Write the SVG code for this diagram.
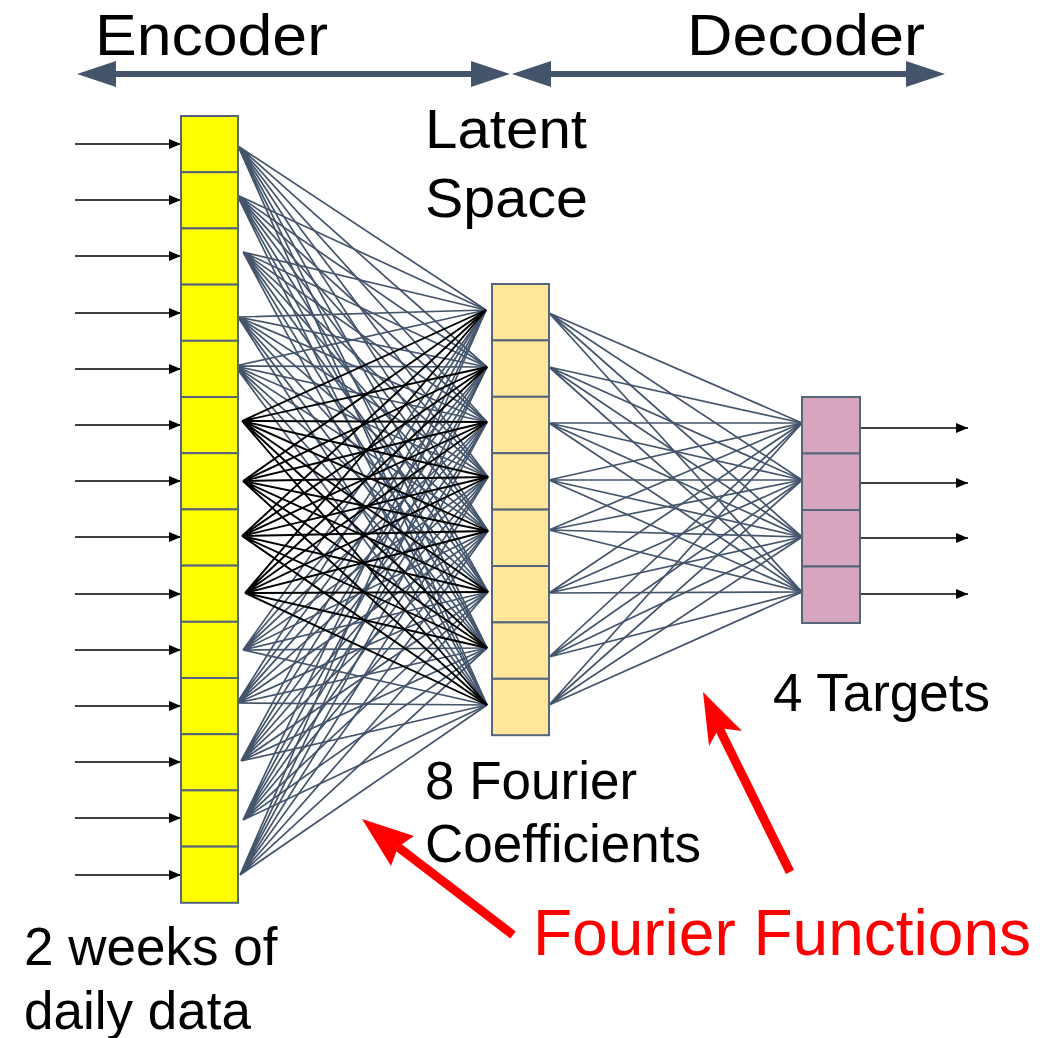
<svg xmlns="http://www.w3.org/2000/svg" width="1048" height="1038" viewBox="0 0 1048 1038">
<style>
text{font-family:"Liberation Sans",Arial,sans-serif;fill:#000}
.cell{stroke:#56657E;stroke-width:2}
.y{fill:#FFFF00}
.l{fill:#FFE699}
.t{fill:#D5A6BD}
.g{fill:none;stroke:#44546A;stroke-width:1.7}
.k{fill:none;stroke:#000;stroke-width:1.9}
.io{stroke:#000;stroke-width:1.5}
.big{stroke:#44546A;stroke-width:6}
.bigh{fill:#44546A}
.red{stroke:#FF0000;stroke-width:9}
.redh{fill:#FF0000}
</style>
<defs>
<marker id="ah" markerUnits="userSpaceOnUse" markerWidth="12" markerHeight="10" refX="12" refY="5" orient="auto">
<path d="M0,0 L12,5 L0,10 z" fill="#000"/>
</marker>
</defs>
<rect width="1048" height="1038" fill="#fff"/>

<g id="connectors">
<g id="encoder-gray">
<path class="g" d="M238 146L486 310M238 146L487 367M238 146L487 422M238 146L488 477M238 146L488 531M238 146L488 592M238 146L487 648M238 146L487 705"/>
<path class="g" d="M237 195L486 310M237 195L487 367M237 195L487 422M237 195L488 477M237 195L488 531M237 195L488 592M237 195L487 648M237 195L487 705"/>
<path class="g" d="M243 252L486 310M243 252L487 367M243 252L487 422M243 252L488 477M243 252L488 531M243 252L488 592M243 252L487 648M243 252L487 705"/>
<path class="g" d="M238 317L486 310M238 317L487 367M238 317L487 422M238 317L488 477M238 317L488 531M238 317L488 592M238 317L487 648M238 317L487 705"/>
<path class="g" d="M235 366L486 310M235 366L487 367M235 366L487 422M235 366L488 477M235 366L488 531M235 366L488 592M235 366L487 648M235 366L487 705"/>
<path class="g" d="M243 650L486 310M243 650L487 367M243 650L487 422M243 650L488 477M243 650L488 531M243 650L488 592M243 650L487 648M243 650L487 705"/>
<path class="g" d="M237 703L486 310M237 703L487 367M237 703L487 422M237 703L488 477M237 703L488 531M237 703L488 592M237 703L487 648M237 703L487 705"/>
<path class="g" d="M241 761L486 310M241 761L487 367M241 761L487 422M241 761L488 477M241 761L488 531M241 761L488 592M241 761L487 648M241 761L487 705"/>
<path class="g" d="M243 820L486 310M243 820L487 367M243 820L487 422M243 820L488 477M243 820L488 531M243 820L488 592M243 820L487 648M243 820L487 705"/>
<path class="g" d="M240 875L486 310M240 875L487 367M240 875L487 422M240 875L488 477M240 875L488 531M240 875L488 592M240 875L487 648M240 875L487 705"/>
</g>
<g id="encoder-black">
<path class="k" d="M242 421L486 310M242 421L487 367M242 421L487 422M242 421L488 477M242 421L488 531M242 421L488 592M242 421L487 648M242 421L487 705"/>
<path class="k" d="M243 481L486 310M243 481L487 367M243 481L487 422M243 481L488 477M243 481L488 531M243 481L488 592M243 481L487 648M243 481L487 705"/>
<path class="k" d="M242 536L486 310M242 536L487 367M242 536L487 422M242 536L488 477M242 536L488 531M242 536L488 592M242 536L487 648M242 536L487 705"/>
<path class="k" d="M245 593L486 310M245 593L487 367M245 593L487 422M245 593L488 477M245 593L488 531M245 593L488 592M245 593L487 648M245 593L487 705"/>
</g>
<g id="decoder-lines">
<path class="g" d="M549 313L802 423M549 313L802 480M549 313L802 537M549 313L802 592"/>
<path class="g" d="M549 367L802 423M549 367L802 480M549 367L802 537M549 367L802 592"/>
<path class="g" d="M549 423L802 423M549 423L802 480M549 423L802 537M549 423L802 592"/>
<path class="g" d="M549 480L802 423M549 480L802 480M549 480L802 537M549 480L802 592"/>
<path class="g" d="M549 530L802 423M549 530L802 480M549 530L802 537M549 530L802 592"/>
<path class="g" d="M549 593L802 423M549 593L802 480M549 593L802 537M549 593L802 592"/>
<path class="g" d="M549 657L802 423M549 657L802 480M549 657L802 537M549 657L802 592"/>
<path class="g" d="M549 705L802 423M549 705L802 480M549 705L802 537M549 705L802 592"/>
</g>
<g id="inputs">
<line class="io" x1="75" y1="144" x2="181" y2="144" marker-end="url(#ah)"/>
<line class="io" x1="75" y1="200" x2="181" y2="200" marker-end="url(#ah)"/>
<line class="io" x1="75" y1="256" x2="181" y2="256" marker-end="url(#ah)"/>
<line class="io" x1="75" y1="313" x2="181" y2="313" marker-end="url(#ah)"/>
<line class="io" x1="75" y1="369" x2="181" y2="369" marker-end="url(#ah)"/>
<line class="io" x1="75" y1="425" x2="181" y2="425" marker-end="url(#ah)"/>
<line class="io" x1="75" y1="481" x2="181" y2="481" marker-end="url(#ah)"/>
<line class="io" x1="75" y1="537" x2="181" y2="537" marker-end="url(#ah)"/>
<line class="io" x1="75" y1="594" x2="181" y2="594" marker-end="url(#ah)"/>
<line class="io" x1="75" y1="650" x2="181" y2="650" marker-end="url(#ah)"/>
<line class="io" x1="75" y1="706" x2="181" y2="706" marker-end="url(#ah)"/>
<line class="io" x1="75" y1="762" x2="181" y2="762" marker-end="url(#ah)"/>
<line class="io" x1="75" y1="818" x2="181" y2="818" marker-end="url(#ah)"/>
<line class="io" x1="75" y1="875" x2="181" y2="875" marker-end="url(#ah)"/>
</g>
<g id="outputs">
<line class="io" x1="860" y1="428" x2="968" y2="428" marker-end="url(#ah)"/>
<line class="io" x1="860" y1="483" x2="968" y2="483" marker-end="url(#ah)"/>
<line class="io" x1="860" y1="538" x2="968" y2="538" marker-end="url(#ah)"/>
<line class="io" x1="860" y1="594" x2="968" y2="594" marker-end="url(#ah)"/>
</g>
<g id="span-arrows">
<line class="big" x1="112" y1="74" x2="475" y2="74"/>
<polygon class="bigh" points="77,74 116,61 116,87"/>
<polygon class="bigh" points="510,74 471,61 471,87"/>
<line class="big" x1="547" y1="74" x2="910" y2="74"/>
<polygon class="bigh" points="512,74 551,61 551,87"/>
<polygon class="bigh" points="945,74 906,61 906,87"/>
</g>
<g id="red-arrows">
<line class="red" x1="513" y1="935" x2="398" y2="847"/>
<polygon class="redh" points="362,819 414,836 398,847 391,866"/>
<line class="red" x1="790" y1="872" x2="719" y2="728"/>
<polygon class="redh" points="703,692 742,731 719,728 709,746"/>
</g>
</g>

<g id="input-layer">
<rect class="cell y" x="181" y="116" width="57" height="56.2"/>
<rect class="cell y" x="181" y="172.2" width="57" height="56.2"/>
<rect class="cell y" x="181" y="228.4" width="57" height="56.2"/>
<rect class="cell y" x="181" y="284.6" width="57" height="56.2"/>
<rect class="cell y" x="181" y="340.8" width="57" height="56.2"/>
<rect class="cell y" x="181" y="397" width="57" height="56.2"/>
<rect class="cell y" x="181" y="453.2" width="57" height="56.2"/>
<rect class="cell y" x="181" y="509.4" width="57" height="56.2"/>
<rect class="cell y" x="181" y="565.6" width="57" height="56.2"/>
<rect class="cell y" x="181" y="621.8" width="57" height="56.2"/>
<rect class="cell y" x="181" y="678" width="57" height="56.2"/>
<rect class="cell y" x="181" y="734.2" width="57" height="56.2"/>
<rect class="cell y" x="181" y="790.4" width="57" height="56.2"/>
<rect class="cell y" x="181" y="846.6" width="57" height="56.2"/>
</g>

<g id="latent-layer">
<rect class="cell l" x="492" y="284" width="57" height="56.4"/>
<rect class="cell l" x="492" y="340.4" width="57" height="56.4"/>
<rect class="cell l" x="492" y="396.8" width="57" height="56.4"/>
<rect class="cell l" x="492" y="453.2" width="57" height="56.4"/>
<rect class="cell l" x="492" y="509.6" width="57" height="56.4"/>
<rect class="cell l" x="492" y="566" width="57" height="56.4"/>
<rect class="cell l" x="492" y="622.4" width="57" height="56.4"/>
<rect class="cell l" x="492" y="678.8" width="57" height="56.4"/>
</g>

<g id="target-layer">
<rect class="cell t" x="802" y="397" width="58" height="56.5"/>
<rect class="cell t" x="802" y="453.5" width="58" height="56.5"/>
<rect class="cell t" x="802" y="510" width="58" height="56.5"/>
<rect class="cell t" x="802" y="566.5" width="58" height="56.5"/>
</g>

<g id="labels">
<text x="95" y="55" font-size="57" textLength="233" lengthAdjust="spacingAndGlyphs">Encoder</text>
<text x="687" y="55" font-size="57" textLength="238" lengthAdjust="spacingAndGlyphs">Decoder</text>
<text x="425" y="148" font-size="55" textLength="162" lengthAdjust="spacingAndGlyphs">Latent</text>
<text x="425" y="217" font-size="55" textLength="163" lengthAdjust="spacingAndGlyphs">Space</text>
<text x="425" y="799" font-size="53">8 Fourier</text>
<text x="425" y="862" font-size="53">Coefficients</text>
<text x="773" y="711" font-size="53">4 Targets</text>
<text x="24" y="965" font-size="53">2 weeks of</text>
<text x="24" y="1029" font-size="53">daily data</text>
<text x="533" y="955" font-size="64" style="fill:#FF0000">Fourier Functions</text>
</g>
</svg>
